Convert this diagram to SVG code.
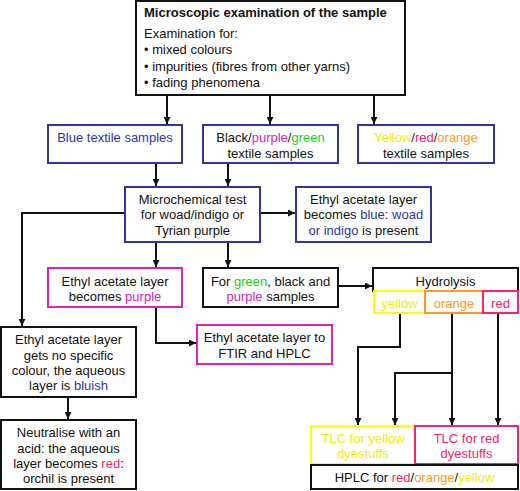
<svg xmlns="http://www.w3.org/2000/svg" width="520" height="491" viewBox="0 0 520 491">
<style>
text{font-family:"Liberation Sans",Arial,sans-serif;font-size:13px;fill:#111}
.c{text-anchor:middle}
.b{font-weight:bold}
rect{fill:#fff;stroke-width:2}
.kb{stroke:#111}
.bl{stroke:#333399}
.mg{stroke:#dd22bb}
.ye{stroke:#ffff00}
.or{stroke:#ff9922}
.rd{stroke:#ff2266}
.tb{fill:#3333aa}
.tm{fill:#dd22bb}
.tg{fill:#22cc22}
.ty{fill:#eeee00}
.to{fill:#ff9922}
.tr{fill:#ff2266}
#connectors path{fill:none;stroke:#111;stroke-width:2}
</style>
<defs>
<marker id="ah" viewBox="0 0 8 8" refX="8" refY="4" markerWidth="7" markerHeight="7" markerUnits="userSpaceOnUse" orient="auto">
<path d="M0,0 L8,4 L0,8 z" fill="#111"/>
</marker>
</defs>
<rect width="520" height="491" style="fill:#fff;stroke:none"/>
<g id="connectors">
<path d="M167,95 V124" marker-end="url(#ah)"/>
<path d="M270,95 V124" marker-end="url(#ah)"/>
<path d="M374,95 V124" marker-end="url(#ah)"/>
<path d="M156,163 V186" marker-end="url(#ah)"/>
<path d="M228,163 V186" marker-end="url(#ah)"/>
<path d="M260,213 H295" marker-end="url(#ah)"/>
<path d="M125,213 H22 V326" marker-end="url(#ah)"/>
<path d="M156,242 V267" marker-end="url(#ah)"/>
<path d="M228,242 V267" marker-end="url(#ah)"/>
<path d="M338,286 H372" marker-end="url(#ah)"/>
<path d="M156,307 V343 H196" marker-end="url(#ah)"/>
<path d="M68,397 V419" marker-end="url(#ah)"/>
<path d="M400,314 V347 H358 V425" marker-end="url(#ah)"/>
<path d="M452,314 V425" marker-end="url(#ah)"/>
<path d="M452,373 H395 V425" marker-end="url(#ah)"/>
<path d="M498,314 V425" marker-end="url(#ah)"/>
</g>
<g id="microscopic">
<rect class="kb" x="136" y="1" width="269" height="94"/>
<text class="b" x="144" y="17">Microscopic examination of the sample</text>
<text x="144" y="38">Examination for:</text>
<text x="144" y="54">• mixed colours</text>
<text x="144" y="71">• impurities (fibres from other yarns)</text>
<text x="144" y="87">• fading phenomena</text>
</g>
<g id="blue-samples">
<rect class="bl" x="48" y="125" width="134" height="38"/>
<text class="c tb" x="115" y="142">Blue textile samples</text>
</g>
<g id="bpg-samples">
<rect class="bl" x="203" y="125" width="135" height="38"/>
<text class="c" x="270.5" y="142">Black/<tspan class="tm">purple</tspan>/<tspan class="tg">green</tspan></text>
<text class="c" x="270.5" y="158">textile samples</text>
</g>
<g id="yro-samples">
<rect class="bl" x="358" y="125" width="136" height="38"/>
<text class="c" x="426" y="142"><tspan class="ty">Yellow</tspan>/<tspan class="tr">red</tspan>/<tspan class="to">orange</tspan></text>
<text class="c" x="426" y="158">textile samples</text>
</g>
<g id="microchemical">
<rect class="bl" x="125" y="187" width="135" height="55"/>
<text class="c" x="192.5" y="204">Microchemical test</text>
<text class="c" x="192.5" y="219">for woad/indigo or</text>
<text class="c" x="192.5" y="235">Tyrian purple</text>
</g>
<g id="ethyl-blue">
<rect class="bl" x="296" y="187" width="135" height="55"/>
<text class="c" x="363.5" y="204">Ethyl acetate layer</text>
<text class="c" x="363.5" y="219">becomes <tspan class="tb">blue</tspan>: <tspan class="tb">woad</tspan></text>
<text class="c" x="363.5" y="235"><tspan class="tb">or indigo</tspan> is present</text>
</g>
<g id="ethyl-purple">
<rect class="mg" x="48" y="268" width="134" height="39"/>
<text class="c" x="115" y="286">Ethyl acetate layer</text>
<text class="c" x="115" y="301">becomes <tspan class="tm">purple</tspan></text>
</g>
<g id="for-green">
<rect class="kb" x="203" y="268" width="135" height="39"/>
<text class="c" x="270.5" y="286">For <tspan class="tg">green</tspan>, black and</text>
<text class="c" x="270.5" y="301"><tspan class="tm">purple</tspan> samples</text>
</g>
<g id="hydrolysis">
<rect class="kb" x="373" y="268" width="145" height="23"/>
<text class="c" x="445.5" y="286">Hydrolysis</text>
<rect class="ye" x="374" y="291" width="51" height="22"/>
<text class="c ty" x="399.5" y="308">yellow</text>
<rect class="or" x="425" y="291" width="58" height="22"/>
<text class="c to" x="454" y="308">orange</text>
<rect class="rd" x="483" y="291" width="35" height="22"/>
<text class="c tr" x="500.5" y="308">red</text>
</g>
<g id="ftir">
<rect class="mg" x="197" y="325" width="135" height="39"/>
<text class="c" x="264.5" y="342">Ethyl acetate layer to</text>
<text class="c" x="264.5" y="358">FTIR and HPLC</text>
</g>
<g id="no-colour">
<rect class="kb" x="1" y="327" width="135" height="70"/>
<text class="c" x="68.5" y="344">Ethyl acetate layer</text>
<text class="c" x="68.5" y="360">gets no specific</text>
<text class="c" x="68.5" y="375">colour, the aqueous</text>
<text class="c" x="68.5" y="390">layer is <tspan class="tb">bluish</tspan></text>
</g>
<g id="neutralise">
<rect class="kb" x="1" y="420" width="135" height="69"/>
<text class="c" x="68.5" y="437">Neutralise with an</text>
<text class="c" x="68.5" y="453">acid: the aqueous</text>
<text class="c" x="68.5" y="468">layer becomes <tspan class="tr">red</tspan>:</text>
<text class="c" x="68.5" y="483">orchil is present</text>
</g>
<g id="tlc-yellow">
<rect class="ye" x="311" y="426" width="104" height="38"/>
<text class="c ty" x="363" y="443">TLC for yellow</text>
<text class="c ty" x="363" y="458">dyestuffs</text>
</g>
<g id="tlc-red">
<rect class="rd" x="415" y="426" width="103" height="38"/>
<text class="c tr" x="466.5" y="443">TLC for red</text>
<text class="c tr" x="466.5" y="458">dyestuffs</text>
</g>
<g id="hplc">
<rect class="kb" x="311" y="465" width="207" height="24"/>
<text class="c" x="414.5" y="482">HPLC for <tspan class="tr">red</tspan>/<tspan class="to">orange</tspan>/<tspan class="ty">yellow</tspan></text>
</g>
</svg>
